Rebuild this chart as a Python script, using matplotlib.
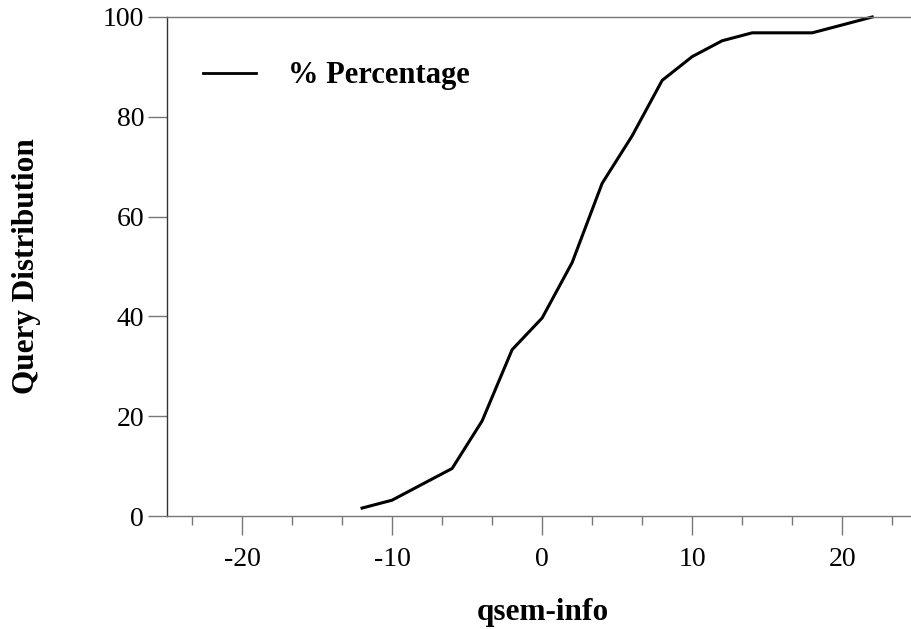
import matplotlib
matplotlib.use("Agg")
import matplotlib.pyplot as plt
from matplotlib.ticker import MultipleLocator

# qsem-info vs cumulative percentage of queries
qsem = [-12, -10, -8, -6, -4, -2, 0, 2, 4, 6, 8, 10, 12, 14, 16, 18, 20, 22]
pct = [1.59, 3.17, 6.35, 9.52, 19.05, 33.33, 39.68, 50.79, 66.67, 76.19,
       87.30, 92.06, 95.24, 96.83, 96.83, 96.83, 98.41, 100.0]

plt.rcParams['font.family'] = ['Liberation Serif', 'DejaVu Serif']
plt.rcParams['axes.unicode_minus'] = False

fig = plt.figure(figsize=(9.12, 6.29), dpi=100)
ax = fig.add_axes([167/912, 113/629, 745/912, 499/629])

ax.plot(qsem, pct, color='black', lw=2.2, label='% Percentage', clip_on=False)

ax.set_xlim(-25, 24.65)
ax.set_ylim(0, 100)
ax.xaxis.set_major_locator(MultipleLocator(10))
ax.xaxis.set_minor_locator(MultipleLocator(10/3))
ax.yaxis.set_major_locator(MultipleLocator(20))

ax.spines['right'].set_visible(False)
ax.spines['left'].set_color('#333333')
ax.spines['bottom'].set_color('#777777')
ax.spines['top'].set_color('#777777')
for s in ax.spines.values():
    s.set_linewidth(1.0)

ax.tick_params(axis='x', which='major', direction='out', length=13.5, width=1,
               color='#777777', labelsize=20, pad=9)
ax.tick_params(axis='x', which='minor', direction='out', length=6.7, width=1,
               color='#777777')
ax.tick_params(axis='y', which='major', direction='out', length=13.5, width=1,
               color='#777777', labelsize=20, pad=3)

ax.set_xlabel('qsem-info', fontsize=22.5, fontweight='bold')
ax.set_ylabel('Query Distribution', fontsize=22.5, fontweight='bold')
ax.xaxis.set_label_coords(0.504, -0.165)
ax.yaxis.set_label_coords(-0.169, 0.5)

leg = ax.legend(loc='center left', bbox_to_anchor=(0.048, 0.882), frameon=False,
                borderpad=0, borderaxespad=0, handlelength=1.74, handletextpad=1.05,
                prop={'size': 22, 'weight': 'bold'})
leg.get_lines()[0].set_linewidth(2.0)

fig.savefig('out.png', dpi=100)
